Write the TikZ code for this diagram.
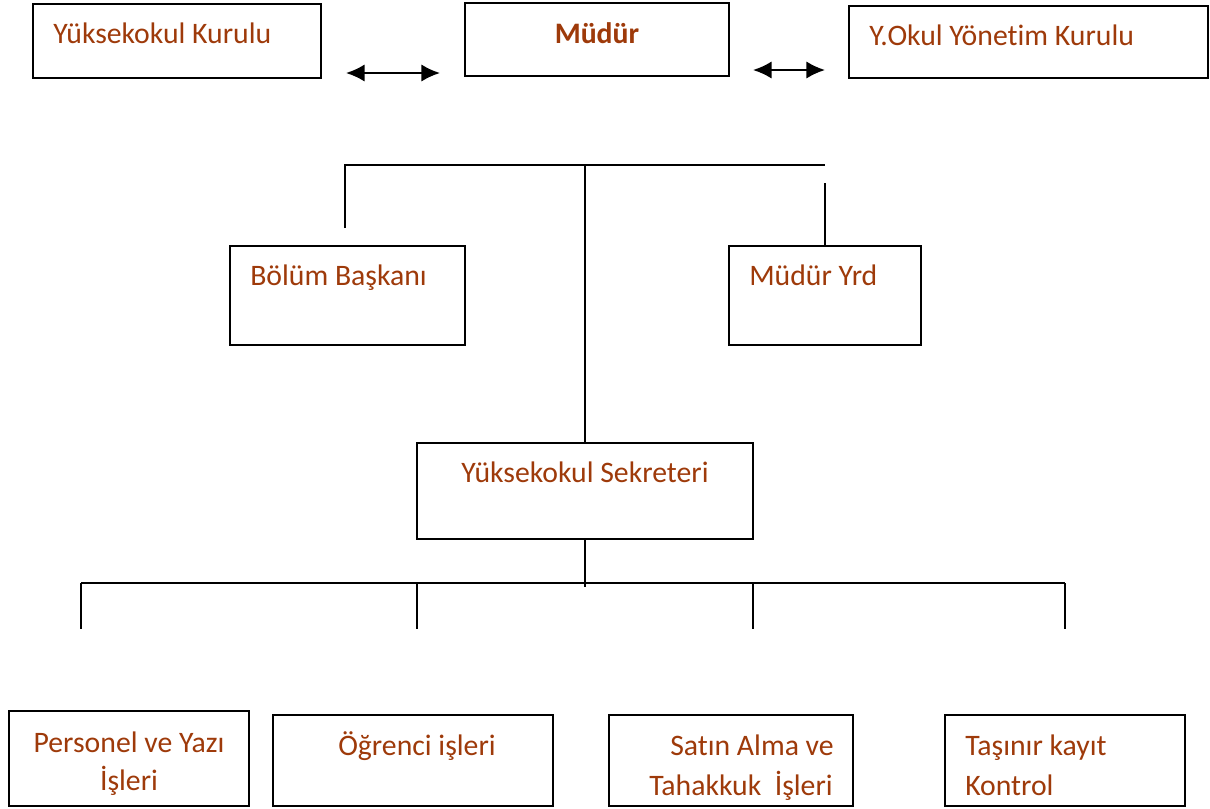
\documentclass[tikz,border=0pt]{standalone}
\usepackage{fontspec}
\setmainfont[Ligatures=NoCommon]{Carlito}
\usetikzlibrary{positioning,arrows.meta}
\definecolor{orgbrown}{RGB}{158,58,10}

\begin{document}
\begin{tikzpicture}[x=0.75pt,y=-0.75pt,
  unitbox/.style={draw=black,line width=1.5pt,inner sep=0pt,fill=white},
  unittext/.style={text=orgbrown,inner sep=0pt,font=\fontsize{22.3}{27}\selectfont},
  orgline/.style={draw=black,line width=1.4pt},
  duplex/.style={line width=1.5pt,{Latex[length=14pt,width=13pt]}-{Latex[length=14pt,width=13pt]}}]
\useasboundingbox (0,0) rectangle (1210,808);
% boxes: name/left/top/right/bottom in pixels
\foreach \name/\xa/\ya/\xb/\yb in {kurul/33/4/321/78, mudur/465/3/729/76,
    yonetim/849/6/1208/78, bolum/230/246/465/345, yrd/729/246/921/345,
    sekreter/417/443/753/539, personel/9/711/249/806, ogrenci/273/715/553/806,
    satin/609/715/853/806, tasinir/945/715/1185/806}
  \node[unitbox,minimum width={(\xb-\xa)*0.75pt},minimum height={(\yb-\ya)*0.75pt}]
    (\name) at ({(\xa+\xb)/2},{(\ya+\yb)/2}) {};
% texts
\node[unittext,anchor=base west] (kurul-t) at (53,43) {Yüksekokul Kurulu};
\node[unittext,anchor=base] (mudur-t) at (597,43) {\bfseries Müdür};
\node[unittext,anchor=base west] (yonetim-t) at (869,45) {Y.Okul Yönetim Kurulu};
\node[unittext,anchor=base west] (bolum-t) at (250,285) {Bölüm Başkanı};
\node[unittext,anchor=base west] (yrd-t) at (749,285) {Müdür Yrd};
\node[unittext,anchor=base] (sekreter-t) at (585,482) {Yüksekokul Sekreteri};
\node[unittext,anchor=base] (personel-t1) at (129,752) {Personel ve Yazı};
\node[unittext,anchor=base] (personel-t2) at (129,790) {İşleri};
\node[unittext,anchor=base] (ogrenci-t) at (417,755) {Öğrenci işleri};
\node[unittext,anchor=base] (satin-t1) at (752,755) {Satın Alma ve};
\node[unittext,anchor=base] (satin-t2) at (741,795) {Tahakkuk\ \ İşleri};
\node[unittext,anchor=base west] (tasinir-t1) at (965,755) {Taşınır kayıt};
\node[unittext,anchor=base west] (tasinir-t2) at (965,795) {Kontrol};
% arrows between the top boxes
\coordinate (kurul-a) at (346,73);
\coordinate (mudur-a) at (440,73);
\coordinate (mudur-b) at (753,70);
\coordinate (yonetim-b) at (825,70);
\draw[duplex] (kurul-a) -- (mudur-a);
\draw[duplex] (mudur-b) -- (yonetim-b);
% upper tree
\coordinate (bar-l) at (345,165);
\coordinate (bar-c) at (585,165);
\coordinate (bar-r) at (825,165);
\coordinate (bolum-end) at (345,228);
\coordinate (yrd-end) at (825,183);
\draw[orgline] (bolum-end) -- (bar-l) -- (bar-r);
\draw[orgline] (bar-c) -- (sekreter.north);
\draw[orgline] (yrd-end) -- (yrd.north);
% lower tree
\coordinate (stem) at (585,587);
\coordinate (rail-l) at (81,583);
\coordinate (rail-r) at (1065,583);
\draw[orgline] (sekreter.south) -- (stem);
\draw[orgline] (rail-l) -- (rail-r);
\foreach \x [count=\i] in {81,417,753,1065} {
  \coordinate (drop\i) at (\x,583);
  \coordinate (drop\i-end) at (\x,629);
  \draw[orgline] (drop\i) -- (drop\i-end);
}
\end{tikzpicture}
\end{document}
